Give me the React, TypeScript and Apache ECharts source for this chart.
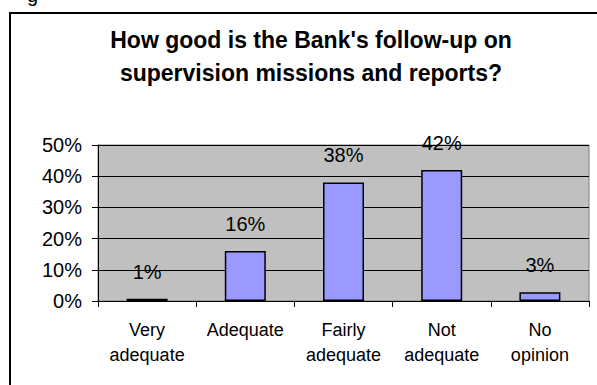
import React, { useEffect, useRef } from "react";
import * as echarts from "echarts";

const categories = ["Very\nadequate", "Adequate", "Fairly\nadequate", "Not\nadequate", "No\nopinion"];
const values = [0.7, 16, 38, 42, 2.8];
const dataLabels = ["1%", "16%", "38%", "42%", "3%"];
const yTicks = [0, 10, 20, 30, 40, 50];
const titleLines = ["How good is the Bank's follow-up on", "supervision missions and reports?"];

export default function App() {
  const ref = useRef<HTMLDivElement>(null);
  useEffect(() => {
    if (!ref.current) return;
    const chart = echarts.init(ref.current, null, { renderer: "svg" });
    const font = "Liberation Sans, Arial, sans-serif";
    chart.setOption({
      animation: false,
      backgroundColor: "#ffffff",
      textStyle: { fontFamily: font },
      grid: {
        left: 98,
        right: 8,
        top: 145,
        bottom: 84,
        show: true,
        backgroundColor: "#C0C0C0",
        borderColor: "#808080",
        borderWidth: 1,
      },
      graphic: [
        {
          type: "rect",
          shape: { x: 10, y: 13, width: 620, height: 420 },
          style: { fill: "none", stroke: "#000", lineWidth: 2 },
          silent: true,
        },
        {
          type: "text",
          x: 27,
          y: -15,
          style: { text: "g", font: `20px ${font}`, fill: "#000", textVerticalAlign: "top" },
          silent: true,
        },
        {
          type: "text",
          x: 311,
          y: 56,
          style: {
            text: titleLines.join("\n"),
            font: `bold 23px ${font}`,
            fill: "#000",
            textAlign: "center",
            textVerticalAlign: "middle",
            lineHeight: 33,
          },
          silent: true,
        },
      ],
      xAxis: {
        type: "category",
        data: categories,
        axisLine: { show: true, lineStyle: { color: "#000", width: 1 } },
        axisTick: { show: true, length: 6, lineStyle: { color: "#000" } },
        axisLabel: {
          interval: 0,
          color: "#000",
          fontSize: 18,
          lineHeight: 25,
          margin: 16,
          fontFamily: font,
        },
        splitLine: { show: false },
      },
      yAxis: {
        type: "value",
        min: 0,
        max: 50,
        interval: 10,
        axisLine: { show: true, lineStyle: { color: "#000", width: 1 } },
        axisTick: { show: true, length: 6, lineStyle: { color: "#000" } },
        axisLabel: {
          color: "#000",
          fontSize: 20,
          margin: 16,
          fontFamily: font,
          formatter: (v: number) => (yTicks.includes(v) ? `${v}%` : ""),
        },
        splitLine: { show: true, lineStyle: { color: "#000", width: 1 } },
      },
      series: [
        {
          type: "bar",
          data: values,
          barWidth: 41,
          itemStyle: { color: "#9999FF", borderColor: "#000", borderWidth: 1.5 },
          label: {
            show: true,
            position: "top",
            distance: 17,
            color: "#000",
            fontSize: 20,
            fontFamily: font,
            formatter: (p: any) => dataLabels[p.dataIndex],
          },
        },
      ],
    });
    return () => chart.dispose();
  }, []);
  return (
    <div
      ref={ref}
      style={{ position: "absolute", left: 0, top: 0, width: 597, height: 385 }}
    />
  );
}
